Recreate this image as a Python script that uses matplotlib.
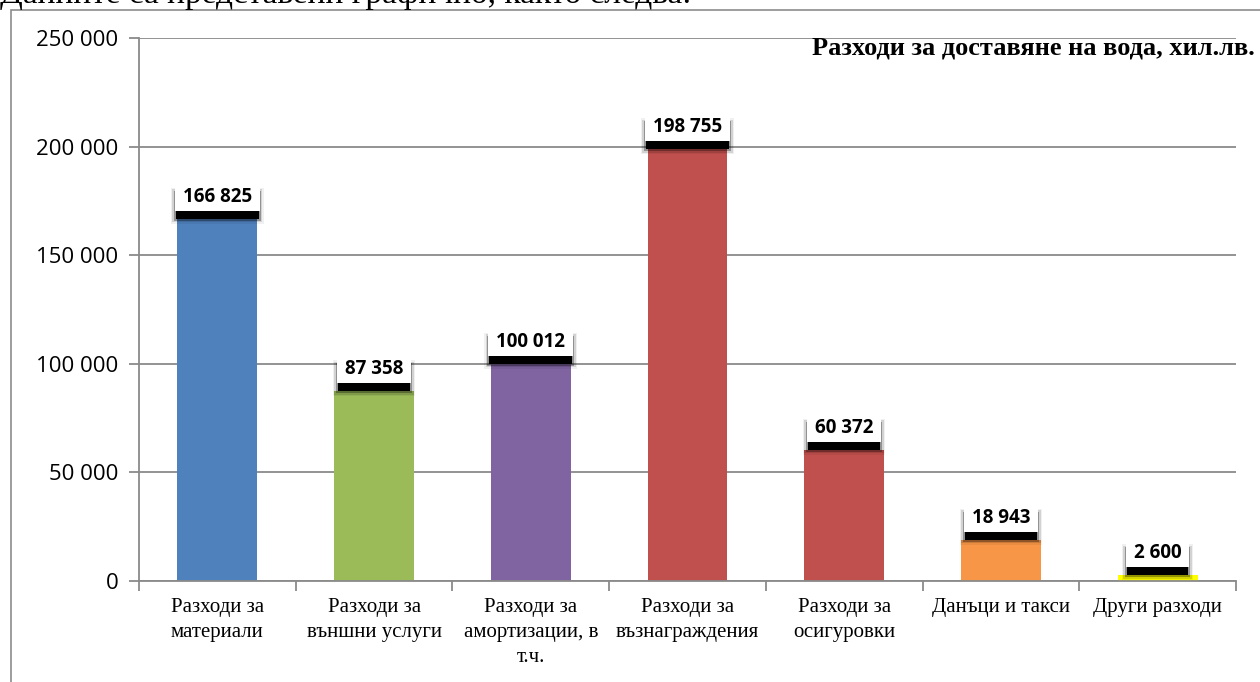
import matplotlib
matplotlib.use("Agg")
import matplotlib.pyplot as plt
from matplotlib.patches import Rectangle
from matplotlib.transforms import IdentityTransform

categories = ["Разходи за\nматериали", "Разходи за\nвъншни услуги", "Разходи за\nамортизации, в\nт.ч.",
              "Разходи за\nвъзнаграждения", "Разходи за\nосигуровки", "Данъци и такси", "Други разходи"]
values = [166825, 87358, 100012, 198755, 60372, 18943, 2600]
colors = ["#4F81BD", "#9BBB59", "#8064A2", "#C0504D", "#C0504D", "#F79646", "#FFFF00"]
yticks = [0, 50000, 100000, 150000, 200000, 250000]
title = "Разходи за доставяне на вода, хил.лв."
top_text = "Данните са представени графично, както следва:"

W, H = 1260, 682
fig = plt.figure(figsize=(W / 100, H / 100), dpi=100)
fig.patch.set_facecolor("white")


def fmt(v):
    return f"{v:,}".replace(",", " ")


# outer frame (right and bottom edges are cut off)
fig.patches.append(Rectangle((11 / W, -20 / H), (W + 20) / W, (H + 10) / H,
                             transform=fig.transFigure, fill=False,
                             edgecolor="#8c8c8c", lw=1.2))
# cut-off document text at the very top
fig.text(0 / W, 1 - 3 / H, top_text, fontsize=24, family="Liberation Serif",
         va="baseline", ha="left", color="black")

ax = fig.add_axes([139 / W, 1 - 581 / H, (1236 - 139) / W, (581 - 38) / H])
x = list(range(len(values)))
ax.bar(x, values, width=0.51, color=colors, zorder=2)
ax.set_xlim(-0.5, len(values) - 0.5)
ax.set_ylim(0, 250000)

grid_c = "#8a8a8a"
for s in ["top", "right"]:
    ax.spines[s].set_visible(False)
for s in ["left", "bottom"]:
    ax.spines[s].set_color(grid_c)
    ax.spines[s].set_linewidth(1.3)
ax.yaxis.grid(True, color=grid_c, lw=1.3, zorder=0)
ax.set_axisbelow(True)

ax.set_yticks(yticks)
ax.set_yticklabels([fmt(v) for v in yticks], fontsize=16, family="Open Sans")
ax.tick_params(axis="y", length=7, color=grid_c, width=1.3, pad=8)

ax.set_xticks([i - 0.5 for i in range(len(values) + 1)])
ax.set_xticklabels([])
ax.tick_params(axis="x", which="major", length=7, color=grid_c, width=1.3)
ax.set_xticks(x, minor=True)
ax.set_xticklabels(categories, minor=True, fontsize=15, family="Liberation Serif",
                   linespacing=1.45)
ax.tick_params(axis="x", which="minor", length=0, pad=12)

fig.text(1255 / W, 1 - 48 / H, title, fontsize=19, fontweight="bold",
         family="Liberation Serif", ha="right", va="center")

# data labels: white box with a soft black drop shadow below
renderer = fig.canvas.get_renderer()
ident = IdentityTransform()
bh = 28
for i, v in enumerate(values):
    cx, ty = ax.transData.transform((i, v))
    y0 = ty + 8
    t = fig.text(cx, y0 + 9, fmt(v), transform=ident, ha="center", va="baseline",
                 fontsize=13.5, fontweight="bold", family="Open Sans", color="black",
                 zorder=12)
    w = t.get_window_extent(renderer).width
    bw = w + 16
    x0 = cx - bw / 2
    for grow, a in [(4, 0.06), (2.5, 0.12), (1, 0.3), (-1, 1.0)]:
        fig.add_artist(Rectangle((x0 - grow, y0 - 9 - grow), bw + 2 * grow, bh + 2 * grow,
                                 transform=ident, fc="black", ec="none", alpha=a, zorder=10))
    fig.add_artist(Rectangle((x0, y0), bw, bh, transform=ident, fc="white", ec="none",
                             zorder=11))

fig.savefig("out.png", dpi=100)
